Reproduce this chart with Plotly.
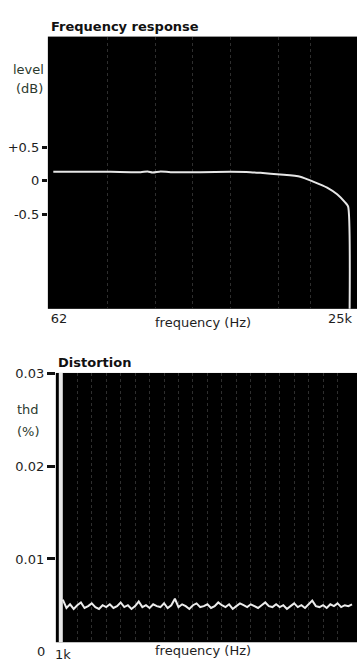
import plotly.graph_objects as go

W, H = 357, 662

# ---------------- data: frequency response ----------------
fr_freq_hz = [55, 99, 187, 355, 412, 458, 543, 672, 1271, 2408, 3684, 4560,
              6980, 10690, 14090, 18970, 23480, 27850, 29670, 30600]
fr_level_db = [0.135, 0.137, 0.135, 0.13, 0.14, 0.125, 0.14, 0.13, 0.13, 0.135,
               0.13, 0.12, 0.095, 0.063, -0.01, -0.10, -0.20, -0.32, -0.38, -2.1]
fr_tick_vals = [62, 25000]
fr_tick_text = ["62", "25k"]
fr_level_ticks = [0.5, 0, -0.5]
fr_level_text = ["+0.5", "0", "-0.5"]
fr_grid_hz = [176, 488, 1070, 2410, 6680, 13200]

# ---------------- data: distortion ----------------
dist_freq_khz = [1.0, 1.25, 1.5, 1.75, 2.0, 2.25, 2.5, 2.75, 3.0, 3.25,
                 3.5, 3.75, 4.0, 4.25, 4.5, 4.75, 5.0, 5.25, 5.5, 5.75,
                 6.0, 6.25, 6.5, 6.75, 7.0, 7.25, 7.5, 7.75, 8.0, 8.25,
                 8.5, 8.75, 9.0, 9.25, 9.5, 9.75, 10.0, 10.25, 10.5, 10.75,
                 11.0, 11.25, 11.5, 11.75, 12.0, 12.25, 12.5, 12.75, 13.0, 13.25,
                 13.5, 13.75, 14.0, 14.25, 14.5, 14.75, 15.0, 15.25, 15.5, 15.75,
                 16.0, 16.25, 16.5, 16.75, 17.0, 17.25, 17.5, 17.75, 18.0, 18.25,
                 18.5, 18.75, 19.0, 19.25, 19.5, 19.75, 20.0, 20.25, 20.5, 20.75,
                 21.0]
dist_thd_pct = [0.0056, 0.0047, 0.0051, 0.0046, 0.0050, 0.0053, 0.0047, 0.0049, 0.0052, 0.0048,
                0.0046, 0.0050, 0.0048, 0.0051, 0.0047, 0.0049, 0.0053, 0.0048, 0.0050, 0.0046,
                0.0049, 0.0054, 0.0048, 0.0050, 0.0047, 0.0051, 0.0049, 0.0048, 0.0052, 0.0047,
                0.0050, 0.0057, 0.0048, 0.0051, 0.0049, 0.0046, 0.0050, 0.0052, 0.0048, 0.0049,
                0.0051, 0.0047, 0.0049, 0.0053, 0.0050, 0.0048, 0.0051, 0.0046, 0.0049, 0.0052,
                0.0050, 0.0048, 0.0051, 0.0049, 0.0047, 0.0050, 0.0053, 0.0049, 0.0048, 0.0051,
                0.0048, 0.0050, 0.0046, 0.0049, 0.0052, 0.0048, 0.0050, 0.0047, 0.0051, 0.0055,
                0.0049, 0.0048, 0.0050, 0.0047, 0.0051, 0.0049, 0.0052, 0.0048, 0.0050, 0.0049,
                0.0051]
spike_freq_khz = [0.86, 0.86]
spike_thd_pct = [0.0, 0.031]
dist_tick_vals = [1, 21]
dist_tick_text = ["1k", "21k"]
thd_ticks = [0.01, 0.02, 0.03]
thd_text = ["0.01", "0.02", "0.03"]
dist_grid_khz = [2, 3, 4, 5, 6, 7, 8, 9, 10, 11, 12, 13, 14, 15, 16, 17, 18, 19, 20]

FONT = "DejaVu Sans"
TXT = "#1e1e1e"
LAB = "#2c3a2e"

fig = go.Figure()
fig.add_trace(go.Scatter(x=fr_freq_hz, y=fr_level_db, mode="lines",
                         line=dict(color="#e6e6e6", width=2, shape="spline", smoothing=0.6),
                         xaxis="x", yaxis="y", showlegend=False))
fig.add_trace(go.Scatter(x=spike_freq_khz, y=spike_thd_pct, mode="lines",
                         line=dict(color="#e8e8e8", width=4),
                         xaxis="x2", yaxis="y2", showlegend=False))
fig.add_trace(go.Scatter(x=dist_freq_khz, y=dist_thd_pct, mode="lines",
                         line=dict(color="#ececec", width=2),
                         xaxis="x2", yaxis="y2", showlegend=False))

minor_grid = dict(showgrid=True, gridcolor="#2e2e2e", griddash="dot",
                  gridwidth=1, ticks="")

fig.update_layout(
    width=W, height=H,
    margin=dict(l=0, r=0, t=0, b=0),
    paper_bgcolor="white", plot_bgcolor="black",
    font=dict(family=FONT, size=13, color=TXT),
    xaxis=dict(type="log", range=[1.690, 4.555], domain=[47 / W, 1], anchor="y",
               tickvals=fr_tick_vals, ticktext=fr_tick_text, ticks="",
               showgrid=False, zeroline=False, showline=False,
               minor=dict(tickvals=fr_grid_hz, **minor_grid),
               tickfont=dict(size=13, color=TXT)),
    yaxis=dict(range=[-1.907, 2.151], domain=[1 - 306 / H, 1 - 30 / H], anchor="x",
               tickvals=fr_level_ticks, ticktext=fr_level_text,
               ticks="outside", ticklen=5, tickwidth=3, tickcolor="#111",
               showgrid=False, zeroline=False, showline=False,
               tickfont=dict(size=13, color=TXT)),
    xaxis2=dict(range=[0.517, 21.345], domain=[55 / W, 1], anchor="y2",
                tickvals=dist_tick_vals, ticktext=dist_tick_text, ticks="",
                ticklabelstandoff=3,
                showgrid=False, zeroline=False, showline=False,
                minor=dict(tickvals=dist_grid_khz, **minor_grid),
                tickfont=dict(size=13, color=TXT)),
    yaxis2=dict(range=[0.001, 0.0301], domain=[1 - 644 / H, 1 - 371 / H], anchor="x2",
                tickvals=thd_ticks, ticktext=thd_text,
                ticks="outside", ticklen=8, tickwidth=3, tickcolor="#111",
                showgrid=False, zeroline=False, showline=False,
                tickfont=dict(size=13, color=TXT)),
)

def ann(text, x, y, size=13, color=LAB, bold=False, xanchor="center"):
    fig.add_annotation(text=f"<b>{text}</b>" if bold else text,
                       x=x / W, y=1 - y / H, xref="paper", yref="paper",
                       xanchor=xanchor, yanchor="middle", showarrow=False,
                       font=dict(family=FONT, size=size, color=color))

ann("Frequency response", 48, 20, size=13, color="#111", bold=True, xanchor="left")
ann("level", 28, 63)
ann("(dB)", 29, 83)
ann("frequency (Hz)", 203, 320, color=TXT)

ann("Distortion", 55, 360, size=13, color="#111", bold=True, xanchor="left")
ann("thd", 27, 408)
ann("(%)", 28, 430)
ann("0", 40, 653, color=TXT)
ann("frequency (Hz)", 203, 652, color=TXT)

fig.write_html("out.html")
